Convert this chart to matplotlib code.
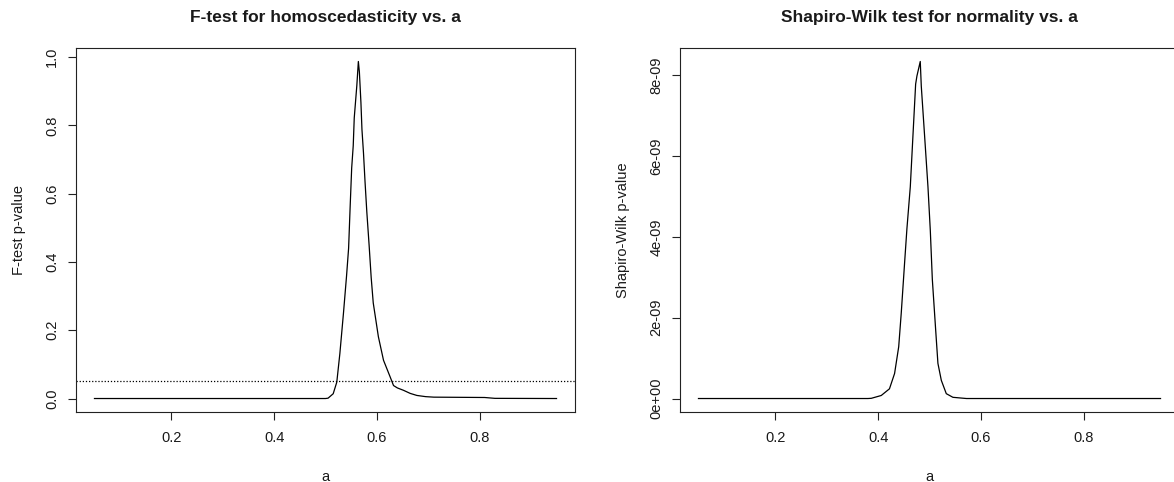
import matplotlib
matplotlib.use('Agg')
import matplotlib.pyplot as plt
import numpy as np

plt.rcParams['font.family'] = ['Liberation Sans', 'DejaVu Sans']

# -- F-test p-value vs a --
a_f = [0.05, 0.50, 0.505, 0.515, 0.522, 0.528, 0.535, 0.541, 0.545, 0.548,
       0.551, 0.554, 0.556, 0.561, 0.564, 0.566, 0.569, 0.571, 0.574, 0.577,
       0.5805, 0.585, 0.589, 0.593, 0.603, 0.613, 0.626, 0.6325, 0.64, 0.652,
       0.665, 0.678, 0.695, 0.711, 0.81, 0.83, 0.95]
p_f = [0.0, 0.0, 0.001, 0.014, 0.048, 0.132, 0.25, 0.359, 0.44, 0.561,
       0.675, 0.74, 0.822, 0.916, 0.987, 0.956, 0.867, 0.788, 0.719, 0.635,
       0.546, 0.448, 0.354, 0.28, 0.181, 0.112, 0.063, 0.038, 0.031, 0.024,
       0.015, 0.009, 0.0055, 0.004, 0.003, 0.0005, 0.0]
f_cutoff = 0.05

# -- Shapiro-Wilk p-value vs a (units of 1e-9) --
a_sw = [0.05, 0.38, 0.3866, 0.406, 0.422, 0.432, 0.440, 0.445, 0.4515, 0.456,
        0.4626, 0.4677, 0.473, 0.4755, 0.482, 0.484, 0.4905, 0.497, 0.5016,
        0.5055, 0.512, 0.5164, 0.523, 0.5327, 0.5456, 0.572, 0.95]
p_sw_e9 = [0.0, 0.0, 0.005, 0.075, 0.24, 0.62, 1.28, 2.12, 3.36, 4.2,
           5.24, 6.49, 7.78, 7.98, 8.34, 7.73, 6.49, 5.24, 4.15,
           2.95, 1.70, 0.87, 0.45, 0.12, 0.03, 0.0, 0.0]
sw_ticks = [0, 2e-9, 4e-9, 6e-9, 8e-9]
sw_ticklabels = ['0e+00', '2e-09', '4e-09', '6e-09', '8e-09']

W, H = 1174, 482
fig = plt.figure(figsize=(W / 100, H / 100), dpi=100)

top, bot = 48, 412
axL = fig.add_axes([76 / W, (H - bot) / H, 499 / W, (bot - top) / H])
axR = fig.add_axes([680 / W, (H - bot) / H, 499 / W, (bot - top) / H])

txt = '#1a1a1a'
fs = 10.5

def style(ax):
    ax.margins(x=0.04, y=0.04)
    for s in ax.spines.values():
        s.set_linewidth(0.8)
        s.set_color('#222222')
    ax.tick_params(direction='out', length=6, width=0.8, labelsize=fs,
                   colors='#222222', labelcolor=txt)
    ax.tick_params(axis='x', pad=7.5)
    ax.tick_params(axis='y', pad=6)
    for lab in ax.get_yticklabels():
        lab.set_rotation(90)
        lab.set_va('center')

# Left panel
axL.plot(a_f, p_f, color='black', lw=0.9)
axL.axhline(f_cutoff, color='black', lw=0.9, ls=(0, (1, 1.5)))
axL.set_xticks([0.2, 0.4, 0.6, 0.8])
axL.set_yticks([0.0, 0.2, 0.4, 0.6, 0.8, 1.0])
axL.set_yticklabels(['0.0', '0.2', '0.4', '0.6', '0.8', '1.0'])
axL.set_xticklabels(['0.2', '0.4', '0.6', '0.8'])
axL.set_title('F-test for homoscedasticity vs. a', fontsize=12.5,
              fontweight='bold', pad=19, color=txt)
axL.set_xlabel('a', fontsize=fs, labelpad=18, color=txt)
axL.set_ylabel('F-test p-value', fontsize=fs, labelpad=14, color=txt)
style(axL)

# Right panel
p_sw = np.array(p_sw_e9) * 1e-9
axR.plot(a_sw, p_sw, color='black', lw=0.9)
axR.set_xticks([0.2, 0.4, 0.6, 0.8])
axR.set_xticklabels(['0.2', '0.4', '0.6', '0.8'])
axR.set_yticks(sw_ticks)
axR.set_yticklabels(sw_ticklabels)
axR.set_title('Shapiro-Wilk test for normality vs. a', fontsize=12.5,
              fontweight='bold', pad=19, color=txt)
axR.set_xlabel('a', fontsize=fs, labelpad=18, color=txt)
axR.set_ylabel('Shapiro-Wilk p-value', fontsize=fs, labelpad=14, color=txt)
style(axR)

fig.savefig('out.png', dpi=100)
